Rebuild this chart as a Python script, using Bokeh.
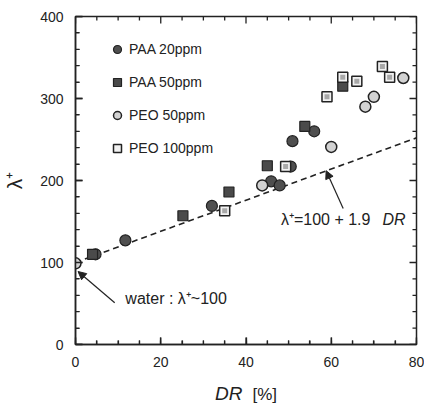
from bokeh.plotting import figure
from bokeh.models import (Range1d, SingleIntervalTicker, Label, Arrow, NormalHead,
                          Legend, LegendItem, Div)
from bokeh.layouts import column
from bokeh.embed import file_html
from bokeh.resources import INLINE

# ---- data ----
paa20_dr = [4.7, 11.7, 32.0, 45.9, 47.9, 50.5, 50.9, 56.0]
paa20_lam = [110, 127, 169, 199, 194, 217, 248, 260]
paa50_dr = [4.0, 25.2, 36.0, 45.0, 53.8, 62.7]
paa50_lam = [110, 157, 186, 218, 266, 315]
peo50_dr = [0.0, 43.8, 60.0, 68.0, 70.0, 76.9]
peo50_lam = [99, 194, 241, 290, 302, 325]
peo100_dr = [35.0, 49.3, 59.0, 62.7, 66.0, 72.0, 73.7]
peo100_lam = [163, 217, 302, 326, 321, 339, 326]
fit_dr = [0, 80]
fit_lam = [100, 252]

x_major = [0, 20, 40, 60, 80]
x_minor = [5, 10, 15, 25, 30, 35, 45, 50, 55, 65, 70, 75]
y_major = [0, 100, 200, 300, 400]
y_minor = [20, 40, 60, 80, 120, 140, 160, 180, 220, 240, 260, 280, 320, 340, 360, 380]

FONT = "Liberation Sans"
INK = "#222222"
XMIN, XMAX, YMIN, YMAX = 0, 80, 0, 400

p = figure(width=424, height=380, output_backend="svg", toolbar_location=None,
           x_range=Range1d(XMIN, XMAX), y_range=Range1d(YMIN, YMAX),
           min_border_left=75, min_border_right=8, min_border_top=16, min_border_bottom=36)
p.xgrid.grid_line_color = None
p.ygrid.grid_line_color = None
p.outline_line_color = INK
p.outline_line_width = 1.5

def style_axis(ax):
    ax.axis_line_color = INK
    ax.axis_line_width = 1.5
    ax.major_tick_in = 7
    ax.major_tick_out = 0
    ax.minor_tick_in = 4
    ax.minor_tick_out = 0
    ax.major_tick_line_color = INK
    ax.minor_tick_line_color = INK
    ax.major_tick_line_width = 1.3
    ax.minor_tick_line_width = 1.2
    ax.major_label_text_font = FONT
    ax.major_label_text_color = INK
    ax.major_label_text_font_size = "14px"

xb = p.xaxis[0]
xb.ticker = SingleIntervalTicker(interval=20, num_minor_ticks=4)
style_axis(xb)
xb.major_label_standoff = 12

yl = p.yaxis[0]
yl.ticker = SingleIntervalTicker(interval=100, num_minor_ticks=5)
style_axis(yl)
yl.major_label_standoff = 12
yl.axis_label = "λ⁺"
yl.axis_label_text_font = FONT
yl.axis_label_text_font_size = "21px"
yl.axis_label_text_font_style = "normal"
yl.axis_label_text_color = INK
yl.axis_label_standoff = 11

# inward tick marks on all four sides of the frame (lengths in px converted to data units)
frame_w = 424 - 75 - 8
frame_h = 380 - 16 - 36
kx = (XMAX - XMIN) / frame_w
ky = (YMAX - YMIN) / frame_h
MAJ, MIN = 7, 4
for ticks, L in ((x_major, MAJ), (x_minor, MIN)):
    p.segment(x0=ticks, y0=[YMIN] * len(ticks), x1=ticks, y1=[YMIN + L * ky] * len(ticks),
              line_color=INK, line_width=1.3)
    p.segment(x0=ticks, y0=[YMAX] * len(ticks), x1=ticks, y1=[YMAX - L * ky] * len(ticks),
              line_color=INK, line_width=1.3)
for ticks, L in ((y_major, MAJ), (y_minor, MIN)):
    p.segment(x0=[XMIN] * len(ticks), y0=ticks, x1=[XMIN + L * kx] * len(ticks), y1=ticks,
              line_color=INK, line_width=1.3)
    p.segment(x0=[XMAX] * len(ticks), y0=ticks, x1=[XMAX - L * kx] * len(ticks), y1=ticks,
              line_color=INK, line_width=1.3)

# fit line
p.line(fit_dr, fit_lam, line_color=INK, line_width=1.6, line_dash="6 4")

# data
r1 = p.scatter(paa20_dr, paa20_lam, marker="circle", size=11,
               fill_color="#4f4f4f", line_color=INK, line_width=1.2)
r2 = p.scatter(paa50_dr, paa50_lam, marker="square", size=10,
               fill_color="#4a4a4a", line_color=INK, line_width=1.2)
r3 = p.scatter(peo50_dr, peo50_lam, marker="circle", size=11,
               fill_color="#d2d2d2", line_color=INK, line_width=1.5)
r4 = p.scatter(peo100_dr, peo100_lam, marker="square", size=10,
               fill_color="#f2f2f2", line_color=INK, line_width=1.5)
p.scatter(peo100_dr, peo100_lam, marker="square", size=5,
          fill_color="#a8a8a8", line_color=None)

legend = Legend(items=[LegendItem(label="PAA 20ppm", renderers=[r1]),
                       LegendItem(label="PAA 50ppm", renderers=[r2]),
                       LegendItem(label="PEO 50ppm", renderers=[r3]),
                       LegendItem(label="PEO 100ppm", renderers=[r4])],
                location=(32, 186), padding=10, spacing=13,
                glyph_width=20, glyph_height=20, label_standoff=2,
                label_text_font=FONT, label_text_font_size="14px",
                label_text_color=INK, border_line_color=None,
                background_fill_alpha=0, label_height=20)
p.add_layout(legend, "center")

# annotations
p.add_layout(Arrow(end=NormalHead(size=8, fill_color=INK, line_color=INK),
                   x_start=62.8, y_start=166, x_end=58.8, y_end=212,
                   line_color=INK, line_width=1.2))
p.add_layout(Arrow(end=NormalHead(size=8, fill_color=INK, line_color=INK),
                   x_start=9.2, y_start=51, x_end=0.6, y_end=89,
                   line_color=INK, line_width=1.2))

p.add_layout(Label(x=48.2, y=152, text="λ⁺=100 + 1.9 ", text_font=FONT,
                   text_font_size="16px", text_baseline="middle", text_color=INK))
p.add_layout(Label(x=72.0, y=152, text="DR", text_font=FONT, text_font_style="italic",
                   text_font_size="16px", text_baseline="middle", text_color=INK))
p.add_layout(Label(x=11.7, y=56, text="water :  λ⁺~100", text_font=FONT,
                   text_font_size="16px", text_baseline="middle", text_color=INK))

# x axis title: italic DR + [%]
xtitle = Div(text='<span style="font-style:italic;font-size:19px">DR</span>'
                  '<span style="font-size:17px;margin-left:10px">[%]</span>',
             width=424, height=28, margin=(0, 0, 0, 0),
             styles={"padding-left": "215px", "font-family": FONT,
                     "color": INK, "line-height": "28px"})

layout = column(p, xtitle, spacing=0)
open("out.html", "w").write(file_html(layout, INLINE))
